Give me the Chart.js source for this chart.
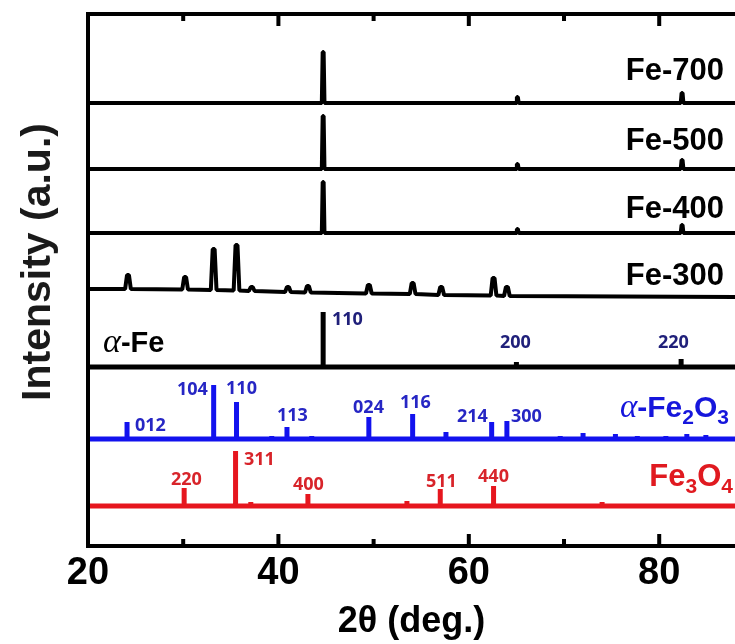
<!DOCTYPE html>
<html>
<head>
<meta charset="utf-8">
<script src="https://cdn.jsdelivr.net/npm/chart.js@4/dist/chart.umd.min.js"></script>
<style>
  html, body { margin: 0; padding: 0; background: #fff; }
  canvas { display: block; }
</style>
</head>
<body>
<canvas id="xrd" width="735" height="644"></canvas>
<script>
// x axis (2theta, deg)
const X_MIN = 20;
const X_MAX = 87.96;
const xTicks = [20, 40, 60, 80];
const minorTicks = [30, 50, 70];

// measured patterns (baseline offset + peaks in a.u.)
const fe700Base = 443;
const fe700Peaks = [44.7, 65.1, 82.4];
const fe700Heights = [51, 6, 10];

const fe500Base = 377;
const fe500Peaks = [44.7, 65.1, 82.4];
const fe500Heights = [53, 5, 9];

const fe400Base = 313;
const fe400Peaks = [44.7, 65.1, 82.4];
const fe400Heights = [51, 4, 8];

// Fe-300 has a slightly sloping background, so each peak has its own foot level
const fe300Peaks = [24.2, 30.2, 33.2, 35.6, 37.2, 41.0, 43.1, 49.5, 54.1, 57.1, 62.6, 64.0];
const fe300Tops  = [271, 269, 297, 301, 259, 259, 260, 261, 263, 259, 268, 259];
const fe300Feet  = [257, 256.5, 256, 255.5, 255, 254, 253.5, 252.5, 252, 251, 250.5, 250];
const fe300Start = 257;
const fe300End = 249;

// reference patterns (stick lines)
const aFeBase = 179;
const aFePeaks = [44.7, 65.0, 82.3];
const aFeHeights = [55, 5, 8];

const hemBase = 107;
const hemPeaks = [24.1, 33.2, 35.6, 39.3, 40.9, 43.5, 49.5, 54.1, 57.6, 62.4, 64.0, 69.6, 72.0, 75.4, 77.7, 80.7, 82.9, 84.9];
const hemHeights = [17, 54, 37, 3, 12, 3, 22, 25, 7, 17, 18, 3, 6, 5, 3, 3, 5, 4];

const magBase = 40;
const magPeaks = [30.1, 35.5, 37.1, 43.1, 53.5, 57.0, 62.6, 71.0, 74.0];
const magHeights = [18, 55, 4, 12, 5, 17, 20, 2, 4];

// Miller indices
const aFeHkl = ['110', '200', '220'];
const aFeHklX = [45.63, 63.28, 79.87];
const aFeHklY = [221, 198, 198];

const hemHkl = ['012', '104', '110', '113', '024', '116', '214', '300'];
const hemHklX = [24.94, 29.35, 34.50, 39.85, 47.84, 52.77, 58.76, 64.43];
const hemHklY = [115, 151, 152, 125, 133, 138, 124, 124];

const magHkl = ['220', '311', '400', '511', '440'];
const magHklX = [28.72, 36.39, 41.53, 55.50, 60.97];
const magHklY = [61, 81, 56, 59, 64];

const sampleNames = ['Fe-700', 'Fe-500', 'Fe-400', 'Fe-300'];
const sampleNameY = [466, 396, 328, 261];

const BLUE_LINE = '#1212ee';
const BLUE_TEXT = '#2626c4';
const RED_LINE = '#e6161e';
const RED_TEXT = '#d8242a';
const NAVY = '#20207a';
const SANS = '"Liberation Sans", Arial, sans-serif';

function measured(base, pos, hts, half) {
  const pts = [{ x: X_MIN, y: base }];
  pos.forEach((p, i) => {
    pts.push({ x: p - half, y: base }, { x: p - 0.05, y: base + hts[i] },
             { x: p + 0.05, y: base + hts[i] }, { x: p + half, y: base });
  });
  pts.push({ x: X_MAX, y: base });
  return pts;
}

function fe300Series() {
  const pts = [{ x: X_MIN, y: fe300Start }];
  fe300Peaks.forEach((p, i) => {
    pts.push({ x: p - 0.3, y: fe300Feet[i] }, { x: p - 0.1, y: fe300Tops[i] },
             { x: p + 0.1, y: fe300Tops[i] }, { x: p + 0.3, y: fe300Feet[i] });
  });
  pts.push({ x: X_MAX, y: fe300End });
  return pts;
}

function sticks(base, pos, hts) {
  const pts = [{ x: X_MIN, y: base }];
  pos.forEach((p, i) => {
    pts.push({ x: p, y: base }, { x: p, y: base + hts[i] }, { x: p, y: base });
  });
  pts.push({ x: X_MAX, y: base });
  return pts;
}

function ds(data, color, width) {
  return { data, borderColor: color, borderWidth: width, pointRadius: 0,
           tension: 0, fill: false, borderJoinStyle: 'bevel' };
}

// rich text: parts = [{t, font, dy}]
function drawRich(ctx, parts, x, y, align, color) {
  ctx.fillStyle = color;
  ctx.textBaseline = 'alphabetic';
  ctx.textAlign = 'left';
  let w = 0;
  parts.forEach(p => { ctx.font = p.font; w += ctx.measureText(p.t).width; });
  let cx = align === 'right' ? x - w : x;
  parts.forEach(p => {
    ctx.font = p.font;
    ctx.fillText(p.t, cx, y + (p.dy || 0));
    cx += ctx.measureText(p.t).width;
  });
}

const framePlugin = {
  id: 'frame',
  afterDatasetsDraw(chart) {
    const { ctx, chartArea: a, scales: { x } } = chart;
    ctx.save();
    ctx.strokeStyle = '#000';
    ctx.lineWidth = 4;
    ctx.beginPath();
    ctx.moveTo(a.right + 10, a.top);
    ctx.lineTo(a.left, a.top);
    ctx.lineTo(a.left, a.bottom);
    ctx.lineTo(a.right + 10, a.bottom);
    ctx.stroke();
    const tick = (v, len) => {
      const px = x.getPixelForValue(v);
      ctx.beginPath();
      ctx.moveTo(px, a.bottom); ctx.lineTo(px, a.bottom - len);
      ctx.moveTo(px, a.top); ctx.lineTo(px, a.top + len);
      ctx.stroke();
    };
    xTicks.slice(1).forEach(v => tick(v, 12));
    minorTicks.forEach(v => tick(v, 7));
    ctx.restore();
  }
};

const labelPlugin = {
  id: 'labels',
  afterDraw(chart) {
    const { ctx, scales: { x, y } } = chart;
    const px = v => x.getPixelForValue(v);
    const py = v => y.getPixelForValue(v);
    ctx.save();

    // y axis title
    ctx.save();
    ctx.translate(39, 262);
    ctx.rotate(-Math.PI / 2);
    ctx.font = 'bold 41px ' + SANS;
    ctx.fillStyle = '#1a1a1a';
    ctx.textAlign = 'center';
    ctx.textBaseline = 'middle';
    ctx.fillText('Intensity (a.u.)', 0, 0);
    ctx.restore();

    // sample names
    sampleNames.forEach((n, i) => {
      drawRich(ctx, [{ t: n, font: 'bold 31px ' + SANS }], px(86.8), py(sampleNameY[i]), 'right', '#000');
    });

    // phase names
    drawRich(ctx, [
      { t: 'α', font: 'italic 34px "Liberation Serif", serif' },
      { t: '-Fe', font: 'bold 29px ' + SANS }
    ], px(21.58), py(194), 'left', '#000');

    drawRich(ctx, [
      { t: 'α', font: 'italic 33px "Liberation Serif", serif' },
      { t: '-Fe', font: 'bold 30px ' + SANS },
      { t: '2', font: 'bold 21px ' + SANS, dy: 7 },
      { t: 'O', font: 'bold 30px ' + SANS },
      { t: '3', font: 'bold 21px ' + SANS, dy: 7 }
    ], px(87.33), py(129), 'right', '#1616dc');

    drawRich(ctx, [
      { t: 'Fe', font: 'bold 31px ' + SANS },
      { t: '3', font: 'bold 21px ' + SANS, dy: 7 },
      { t: 'O', font: 'bold 31px ' + SANS },
      { t: '4', font: 'bold 21px ' + SANS, dy: 7 }
    ], px(87.75), py(60), 'right', '#e01a20');

    // hkl labels
    const hklFont = 'bold 18px "Open Sans", ' + SANS;
    aFeHkl.forEach((t, i) => drawRich(ctx, [{ t, font: hklFont }], px(aFeHklX[i]), py(aFeHklY[i]), 'left', NAVY));
    hemHkl.forEach((t, i) => drawRich(ctx, [{ t, font: hklFont }], px(hemHklX[i]), py(hemHklY[i]), 'left', BLUE_TEXT));
    magHkl.forEach((t, i) => drawRich(ctx, [{ t, font: hklFont }], px(magHklX[i]), py(magHklY[i]), 'left', RED_TEXT));

    ctx.restore();
  }
};

new Chart(document.getElementById('xrd'), {
  type: 'line',
  data: {
    datasets: [
      ds(measured(fe700Base, fe700Peaks, fe700Heights, 0.14), '#000', 4),
      ds(measured(fe500Base, fe500Peaks, fe500Heights, 0.14), '#000', 4),
      ds(measured(fe400Base, fe400Peaks, fe400Heights, 0.14), '#000', 4),
      ds(fe300Series(), '#000', 4),
      ds(sticks(aFeBase, aFePeaks, aFeHeights), '#000', 5),
      ds(sticks(hemBase, hemPeaks, hemHeights), BLUE_LINE, 5),
      ds(sticks(magBase, magPeaks, magHeights), RED_LINE, 5)
    ]
  },
  options: {
    responsive: false,
    animation: false,
    layout: { padding: { top: 14, right: 0, left: 0, bottom: 0 } },
    plugins: { legend: { display: false }, tooltip: { enabled: false } },
    scales: {
      x: {
        type: 'linear',
        min: X_MIN,
        max: X_MAX,
        afterBuildTicks: s => { s.ticks = xTicks.map(v => ({ value: v })); },
        afterFit: s => { s.height = 98; },
        grid: { display: false, drawTicks: false },
        border: { display: false },
        ticks: {
          autoSkip: false, maxRotation: 0, padding: 5, color: '#000',
          font: { size: 38, weight: 'bold', family: SANS }
        },
        title: {
          display: true, text: '2θ (deg.)', color: '#000', padding: 0,
          font: { size: 36, weight: 'bold', family: SANS }
        }
      },
      y: {
        min: 0,
        max: 532,
        afterFit: s => { s.width = 88; },
        grid: { display: false },
        border: { display: false },
        ticks: { display: false }
      }
    }
  },
  plugins: [framePlugin, labelPlugin]
});
</script>
</body>
</html>
